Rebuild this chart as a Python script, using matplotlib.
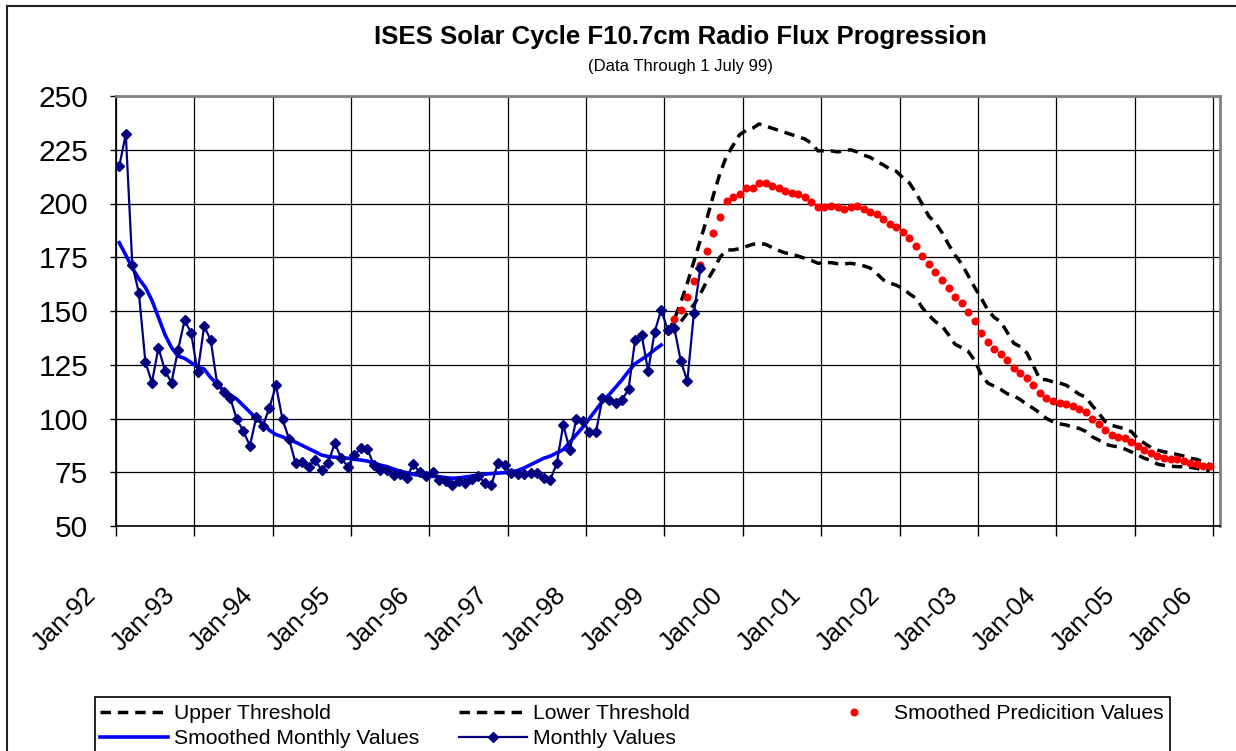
"""ISES Solar Cycle F10.7cm radio flux progression (monthly, smoothed, predicted)."""

import numpy as np
import matplotlib
matplotlib.use("Agg")
import matplotlib.pyplot as plt
import matplotlib.transforms as mtransforms
from matplotlib.lines import Line2D
from matplotlib.patches import Rectangle

plt.rcParams["font.family"] = ["Liberation Sans", "DejaVu Sans"]

# ---- data (month index 0 = Jan-92) ----
monthly = [
    217.4, 232.2, 171.4, 158.5, 126.3, 116.7, 133.0, 122.2, 116.7, 131.9, 145.7, 139.9,
    121.5, 142.9, 136.5, 116.0, 112.2, 109.5, 99.6, 94.2, 87.3, 100.8, 96.7, 105.0,
    115.4, 99.6, 90.5, 79.2, 80.0, 77.6, 80.7, 76.0, 79.4, 88.5, 81.5, 77.6,
    83.0, 86.1, 85.6, 78.4, 76.0, 76.0, 73.7, 74.2, 72.2, 78.7, 75.0, 73.1,
    75.0, 71.4, 70.7, 69.1, 70.7, 70.2, 71.7, 73.3, 70.0, 69.1, 79.4, 78.4,
    74.5, 74.2, 74.2, 74.5, 74.5, 72.2, 71.4, 79.2, 97.0, 85.3, 99.8, 99.0,
    93.6, 93.6, 109.4, 108.6, 107.1, 108.6, 113.7, 136.5, 138.8, 122.1, 140.4, 150.5,
    141.2, 142.2, 126.7, 117.4, 148.9, 169.9,
]

smoothed = [
    181.8, 176.0, 170.0, 165.0, 161.0, 155.0, 147.0, 139.0, 133.0, 129.0, 128.0, 126.0,
    124.0, 123.0, 119.0, 116.0, 113.0, 111.0, 109.0, 106.0, 103.0, 100.0, 97.5, 94.5,
    92.5, 91.5, 90.0, 89.0, 87.5, 86.0, 84.5, 83.0, 82.3, 82.0, 81.8, 81.5,
    81.0, 80.7, 80.2, 79.3, 78.3, 77.6, 76.5, 75.5, 74.8, 74.0, 73.6, 73.3,
    73.1, 72.9, 72.5, 72.2, 72.4, 72.8, 73.2, 73.7, 74.1, 74.4, 74.6, 74.8,
    75.2, 75.8, 77.0, 78.5, 80.0, 81.5, 82.5, 84.0, 85.5, 89.0, 92.5, 96.0,
    100.0, 104.0, 108.0, 111.0, 114.5, 118.0, 122.0, 125.5, 127.5, 129.5, 132.0, 134.2,
]

pred_start = 84  # Jan-99

predicted = [
    140.7, 146.1, 150.5, 156.7, 164.1, 171.2, 177.9, 186.1, 193.6, 201.2, 202.9, 204.3,
    207.2, 207.4, 209.7, 209.7, 208.1, 207.4, 206.0, 205.1, 204.3, 202.9, 200.6, 198.3,
    198.3, 199.0, 198.5, 197.4, 198.4, 199.0, 197.4, 195.9, 195.1, 192.9, 190.6, 189.1,
    186.9, 183.8, 180.1, 175.6, 171.7, 168.0, 164.6, 160.5, 156.7, 153.6, 149.7, 145.3,
    139.9, 135.4, 132.3, 130.1, 127.2, 123.3, 121.0, 118.8, 115.7, 112.0, 109.7, 108.1,
    107.3, 106.6, 105.9, 104.4, 102.8, 99.9, 97.6, 94.7, 92.3, 91.5, 90.8, 89.2,
    87.1, 85.5, 84.0, 82.6, 81.8, 81.0, 81.0, 80.2, 79.4, 78.7, 77.9, 77.9,
]

upper = [
    140.0, 146.0, 154.0, 163.0, 173.0, 183.0, 193.0, 204.0, 214.0, 222.0, 227.0, 232.0,
    234.0, 235.0, 237.0, 236.0, 235.0, 234.0, 233.0, 232.0, 231.0, 230.0, 228.0, 224.5,
    224.5, 224.5, 224.0, 224.5, 225.0, 224.0, 222.5, 221.5, 219.5, 218.0, 216.0, 215.0,
    212.0, 209.6, 205.0, 199.5, 194.0, 191.0, 186.5, 181.0, 176.0, 172.0, 166.5, 161.0,
    156.0, 150.5, 147.0, 145.0, 140.0, 135.0, 133.4, 130.5, 124.5, 118.2, 118.0, 117.0,
    116.5, 115.5, 113.5, 111.3, 110.0, 106.0, 102.5, 98.5, 96.8, 96.0, 95.2, 93.9,
    90.5, 88.5, 86.5, 85.3, 84.5, 84.0, 83.3, 82.5, 81.5, 81.0, 79.9, 78.5,
]

lower = [
    140.0, 142.5, 145.0, 149.0, 153.0, 158.0, 164.0, 169.0, 175.0, 178.4, 178.4, 179.0,
    180.0, 181.0, 181.5, 181.0, 179.5, 178.1, 177.0, 176.5, 175.5, 174.5, 173.5, 172.2,
    172.5, 172.5, 172.0, 171.9, 172.2, 171.7, 171.0, 170.0, 167.5, 164.5, 163.0, 162.0,
    160.5, 158.0, 156.0, 151.5, 148.0, 145.0, 143.0, 139.0, 134.5, 133.0, 131.3, 127.0,
    120.5, 116.5, 115.0, 113.5, 111.5, 110.5, 108.8, 106.5, 104.7, 102.5, 100.0, 98.5,
    97.5, 97.0, 96.0, 95.4, 94.0, 91.5, 90.0, 88.0, 87.3, 86.8, 85.8, 84.5,
    83.0, 81.5, 80.5, 78.8, 78.2, 77.8, 77.6, 77.6, 77.3, 76.8, 76.0, 75.5,
]

year_labels = ["Jan-92", "Jan-93", "Jan-94", "Jan-95", "Jan-96", "Jan-97", "Jan-98",
               "Jan-99", "Jan-00", "Jan-01", "Jan-02", "Jan-03", "Jan-04", "Jan-05", "Jan-06"]
y_ticks = [50, 75, 100, 125, 150, 175, 200, 225, 250]

# ---- figure ----
W, H = 1236, 751
fig = plt.figure(figsize=(W / 100, H / 100), dpi=100)
ax = fig.add_axes([116 / W, 1 - 526 / H, 1103.5 / W, 430 / H])

x_mon = np.arange(len(monthly))
x_smo = np.arange(len(smoothed))
x_pred = np.arange(pred_start, pred_start + len(predicted))

dash = (0, (3, 2))
ax.plot(x_pred, upper, color="black", lw=2.5, linestyle=dash, label="Upper Threshold", zorder=3)
ax.plot(x_pred, lower, color="black", lw=2.5, linestyle=dash, label="Lower Threshold", zorder=3)
ax.plot(x_pred, predicted, linestyle="none", marker="o", ms=5.8, color="red",
        markeredgewidth=0, label="Smoothed Predicition Values", zorder=4)
ax.plot(x_smo, smoothed, color="#0000FF", lw=2.6, label="Smoothed Monthly Values", zorder=5)
ax.plot(x_mon, monthly, color="#000080", lw=1.6, marker="D", ms=5,
        label="Monthly Values", zorder=6)

ax.set_xlim(-0.5, 168.5)
ax.set_ylim(50, 250)
ax.set_yticks(y_ticks)
ax.set_yticklabels([str(v) for v in y_ticks], fontsize=21.5)
ax.tick_params(axis="y", direction="out", length=4, width=1, pad=16)

xt = np.arange(len(year_labels)) * 12 - 0.5
ax.set_xticks(xt)
ax.set_xticklabels(year_labels, fontsize=18.5, rotation=45, ha="right", va="top")
ax.tick_params(axis="x", direction="out", length=7, width=1, pad=34)
shift = mtransforms.ScaledTranslation(-15 / 100, 0, fig.dpi_scale_trans)
for lab in ax.get_xticklabels():
    lab.set_transform(lab.get_transform() + shift)

ax.grid(True, color="black", lw=0.9)
ax.set_axisbelow(True)
for side in ["top", "right"]:
    ax.spines[side].set_color("#808080")
    ax.spines[side].set_linewidth(2)
for side in ["left", "bottom"]:
    ax.spines[side].set_color("black")
    ax.spines[side].set_linewidth(1.2)

fig.text(680 / W, 1 - 37 / H, "ISES Solar Cycle F10.7cm Radio Flux Progression",
         ha="center", va="center", fontsize=18.5, fontweight="bold")
fig.text(680 / W, 1 - 66 / H, "(Data Through 1 July 99)", ha="center", va="center", fontsize=12)

# chart-area border (left and top edges visible in the crop)
fig.add_artist(Line2D([7 / W, 7 / W], [0, 1 - 6 / H], transform=fig.transFigure, color="#222222", lw=1.5))
fig.add_artist(Line2D([7 / W, 1], [1 - 6 / H, 1 - 6 / H], transform=fig.transFigure, color="#222222", lw=1.5))

# legend box runs off the bottom of the picture
fig.add_artist(Rectangle((95 / W, -0.05), (1170 - 95) / W, 0.05 + 1 - 697 / H,
                         transform=fig.transFigure, fill=False, edgecolor="black", lw=1.2))

handles, labels = ax.get_legend_handles_labels()
hmap = dict(zip(labels, handles))
leg_kw = dict(frameon=False, fontsize=15.2, handlelength=3.2, handletextpad=0.3,
              labelspacing=0.3, borderpad=0, borderaxespad=0, loc="upper left")
cols = [
    (["Upper Threshold", "Smoothed Monthly Values"], 100),
    (["Lower Threshold", "Monthly Values"], 459),
    (["Smoothed Predicition Values"], 820),
]
for names, xpos in cols:
    leg = fig.legend([hmap[n] for n in names], names,
                     bbox_to_anchor=(xpos / W, 1 - 704 / H), **leg_kw)

fig.savefig("out.png", dpi=100)
